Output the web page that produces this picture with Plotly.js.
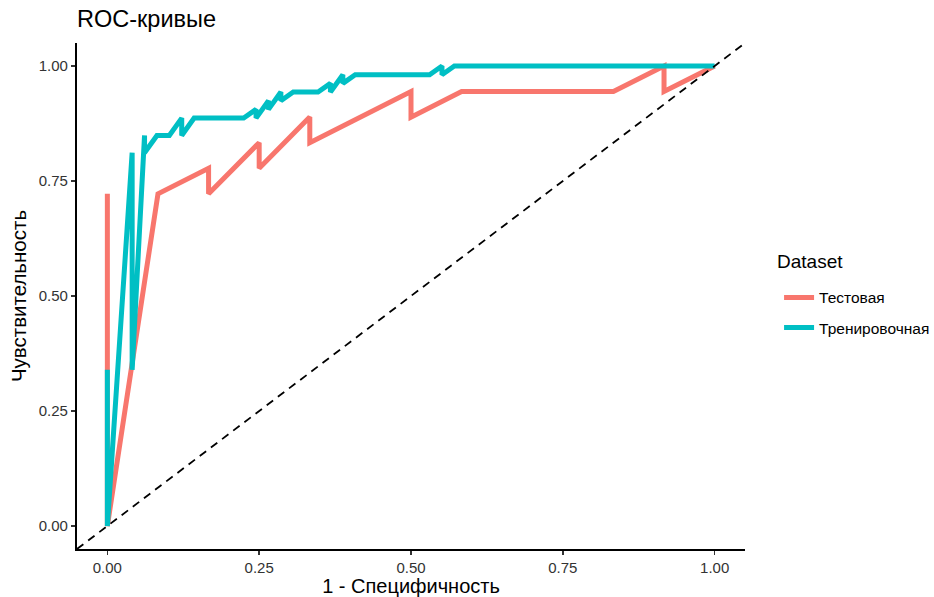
<!DOCTYPE html>
<html>
<head>
<meta charset="utf-8">
<script src="https://cdn.plot.ly/plotly-3.0.1.min.js"></script>
<style>html,body{margin:0;padding:0;background:#fff;}#chart{width:934px;height:597px;}</style>
</head>
<body>
<div id="chart"></div>
<script>
// ---- Data (counts of negatives / positives) ----
const seriesNames = ["Тестовая", "Тренировочная"];
const seriesColors = ["#F8766D", "#00BFC4"];
const legendTitle = "Dataset";

const testNegatives = 12;
const testPositives = 18;
const testFpCount = [0, 0, 1, 2, 2, 3, 3, 4, 4, 6, 6, 7, 10, 11, 11, 12];
const testTpCount = [13, 0, 13, 14, 13, 15, 14, 16, 15, 17, 16, 17, 17, 18, 17, 18];

const trainNegatives = 49;
const trainPositives = 53;
const trainFpCount = [0, 0, 2, 2, 3, 3, 4, 5, 6, 6, 7, 11, 12, 12, 13, 13, 14, 14, 15, 17, 18, 18, 19, 19, 20, 26, 27, 27, 28, 49];
const trainTpCount = [18, 0, 43, 18, 45, 43, 45, 45, 47, 45, 47, 47, 48, 47, 49, 48, 50, 49, 50, 50, 51, 50, 52, 51, 52, 52, 53, 52, 53, 53];

const tickValues = [0, 0.25, 0.5, 0.75, 1];
const tickLabels = ["0.00", "0.25", "0.50", "0.75", "1.00"];
const axisRange = [-0.05, 1.05];

const FONT = "Liberation Sans, Arial, Helvetica, sans-serif";

const traces = [
  {
    x: testFpCount.map(v => v / testNegatives),
    y: testTpCount.map(v => v / testPositives),
    name: seriesNames[0], legendgroup: "a",
    type: "scatter", mode: "lines",
    line: {color: seriesColors[0], width: 5},
    hoverinfo: "skip"
  },
  {
    x: trainFpCount.map(v => v / trainNegatives),
    y: trainTpCount.map(v => v / trainPositives),
    name: seriesNames[1], legendgroup: "b",
    type: "scatter", mode: "lines",
    line: {color: seriesColors[1], width: 5},
    hoverinfo: "skip"
  }
];

const axisCommon = {
  range: axisRange,
  tickmode: "array",
  tickvals: tickValues,
  ticktext: tickLabels,
  showgrid: false,
  zeroline: false,
  showline: true,
  linecolor: "#000",
  linewidth: 1.6,
  ticks: "outside",
  ticklen: 4.5,
  tickwidth: 1.5,
  tickcolor: "#333",
  tickfont: {family: FONT, size: 15, color: "#333"},
  fixedrange: true
};

const layout = {
  width: 934, height: 597,
  margin: {l: 77, r: 189, t: 43, b: 48, autoexpand: false},
  paper_bgcolor: "#fff", plot_bgcolor: "#fff",
  font: {family: FONT, color: "#000"},
  title: {
    text: "ROC-кривые",
    font: {family: FONT, size: 23.5, color: "#000"},
    x: 0, xref: "paper", xanchor: "left",
    y: 1 - 19 / 597, yref: "container", yanchor: "middle"
  },
  xaxis: Object.assign({}, axisCommon, {
    title: {text: "1 - Специфичность", font: {family: FONT, size: 20, color: "#000"}, standoff: 6}
  }),
  yaxis: Object.assign({}, axisCommon, {
    title: {text: "Чувствительность", font: {family: FONT, size: 20.5, color: "#000"}, standoff: 6}
  }),
  showlegend: true,
  legend: {
    font: {family: FONT, size: 15.5, color: "#000"},
    x: 1.051, xanchor: "left",
    y: 0.530, yanchor: "top",
    tracegroupgap: 7,
    bgcolor: "rgba(0,0,0,0)"
  },
  annotations: [{
    text: legendTitle,
    xref: "paper", yref: "paper",
    x: 1.045, xanchor: "left",
    y: (549 - 261) / 506, yanchor: "middle",
    showarrow: false,
    font: {family: FONT, size: 19, color: "#000"}
  }],
  shapes: [{
    type: "line", xref: "x", yref: "y",
    x0: axisRange[0], y0: axisRange[0], x1: axisRange[1], y1: axisRange[1],
    line: {color: "#000", width: 1.8, dash: "8px,6px"},
    layer: "above"
  }]
};

Plotly.newPlot("chart", traces, layout, {staticPlot: true, displayModeBar: false});
</script>
</body>
</html>
